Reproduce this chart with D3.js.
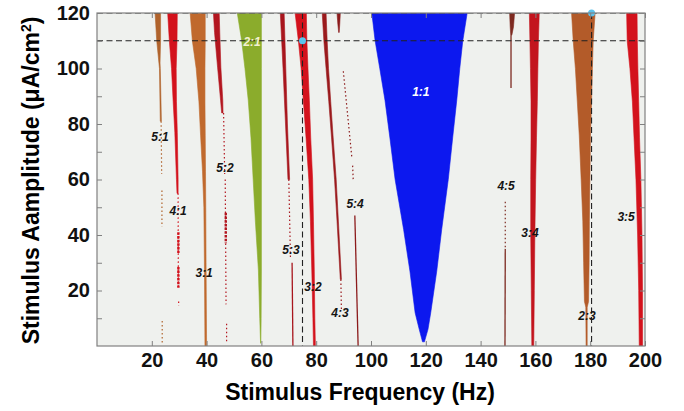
<!DOCTYPE html>
<html>
<head>
<meta charset="utf-8">
<script src="https://cdn.jsdelivr.net/npm/d3@7"></script>
<style>
  body { margin: 0; background: #fff; }
  svg { display: block; font-family: "Liberation Sans", Arial, sans-serif; }
</style>
</head>
<body>
<div id="chart"></div>
<script>
// axis ticks
var xTicks = [20, 40, 60, 80, 100, 120, 140, 160, 180, 200];
var yTicks = [20, 40, 60, 80, 100, 120];
var yTickMarks = [10, 20, 30, 40, 50, 60, 70, 80, 90, 100, 110];

// locking ratios, left to right
var ratios = ["5:1", "4:1", "3:1", "5:2", "2:1", "5:3", "3:2", "4:3", "5:4", "1:1", "4:5", "3:4", "2:3", "3:5"];

// where each ratio label sits (Hz, uA/cm2)
var labelFreq = [23.0, 29.6, 39.1, 46.7, 56.6, 70.8, 78.8, 88.7, 94.2, 118.2, 149.3, 158.0, 178.8, 193.1];
var labelAmp  = [75.3, 48.6, 26.3, 64.1, 109.5, 34.6, 21.3, 11.9, 51.2, 91.5, 57.7, 40.7, 10.8, 46.5];

// tongue outlines: [amplitude, left freq, right freq]
var tongue51 = [[120, 21.2, 23.2], [110, 21.8, 23.2], [102, 22.6, 23.0], [100, 22.8, 23.1], [81, 23.1, 23.5]];
var tongue41 = [[120, 25.8, 29.3], [110, 26.4, 29.2], [100, 27.2, 28.9], [88, 27.8, 29.0], [77, 28.4, 29.3], [60, 29.0, 29.6], [55, 29.2, 29.6]];
var tongue31 = [[120, 34.0, 39.5], [110, 34.8, 39.5], [100, 36.2, 39.4], [88, 37.2, 39.4], [76, 37.8, 39.5], [63, 38.5, 39.6], [50, 39.0, 39.7], [30, 39.2, 39.8], [0, 39.4, 40.0]];
var tongue52 = [[120, 42.5, 44.6], [113, 42.9, 44.8], [100.5, 44.0, 45.2], [88.6, 45.1, 45.9], [84, 45.5, 46.0]];
var tongue21 = [[120, 51.2, 60.0], [110, 52.8, 60.0], [100, 54.0, 60.0], [88.6, 55.2, 60.0], [75, 56.2, 60.0], [60, 57.0, 60.0], [45, 57.8, 60.0], [27.4, 58.9, 60.0], [10, 59.4, 59.9], [1, 59.7, 59.8]];
var tongue53 = [[120, 66.9, 68.3], [100, 67.9, 68.9], [80, 68.8, 69.5], [60, 69.7, 70.3]];
var tongue32 = [[120, 72.3, 76.4], [110, 73.5, 76.6], [100, 74.5, 77.0], [88.6, 75.3, 77.5], [75, 76.3, 78.0], [60, 77.3, 78.7], [45, 77.9, 79.0], [27, 78.4, 79.3], [10, 78.8, 79.5], [0, 79.0, 79.7]];
var tongue43 = [[120, 82.2, 83.6], [110, 82.8, 84.0], [100, 83.6, 84.5], [88, 84.6, 85.3], [75, 85.6, 86.2], [60, 86.7, 87.3], [45, 87.6, 88.1], [24, 88.8, 89.2]];
var tongue54 = [[120, 87.6, 88.8], [116, 87.9, 88.6], [113, 88.2, 88.4]];
var tongue11 = [[120, 100.3, 135.1], [110, 101.5, 133.5], [100, 103.2, 132.4], [88.6, 105.1, 131.3], [75, 106.9, 129.8], [60, 108.8, 128.2], [42, 111.9, 125.8], [27, 114.2, 124.0], [12, 116.1, 121.8], [6, 117.6, 120.8], [1.5, 118.8, 119.5]];
var tongue45 = [[120, 150.6, 152.4], [115, 150.8, 152.0], [112, 151.0, 151.4]];
var tongue34 = [[120, 157.8, 161.4], [110, 158.0, 161.1], [100, 158.2, 160.9], [88, 158.4, 160.7], [75, 158.4, 160.4], [60, 158.3, 160.1], [40, 158.3, 159.8], [20, 158.5, 159.6], [0, 158.7, 159.4]];
var tongue23 = [[120, 173.2, 181.8], [110, 173.8, 181.1], [100, 174.6, 180.8], [88, 175.3, 180.5], [76, 176.0, 180.1], [60, 176.7, 179.9], [45, 177.3, 179.7], [30, 177.6, 179.6], [16, 177.9, 179.4], [14, 178.4, 178.9], [0, 178.5, 178.9]];
var tongue35 = [[120, 193.3, 197.1], [110, 193.5, 197.2], [100, 194.5, 197.4], [88, 195.4, 197.7], [75, 196.0, 198.0], [60, 196.7, 198.5], [40, 197.3, 198.9], [20, 197.7, 199.1], [0, 197.9, 199.1]];

// thin continuations below the tongues: [ratio, fTop, aTop, fBottom, aBottom]
var solidStrands = [
  ["5:3", 71.2, 30, 71.5, 0],
  ["5:4", 94.1, 47, 95.3, 0],
  ["4:5", 151.1, 112, 151.1, 93],
  ["4:5", 149.0, 35, 148.9, 0]
];
var dottedStrands = [
  ["5:1", 23.4, 81, 23.6, 62], ["5:1", 23.7, 56, 23.7, 43], ["5:1", 23.8, 9, 23.8, 1],
  ["4:1", 29.6, 55, 29.7, 21], ["4:1", 29.8, 16, 29.8, 14.5],
  ["5:2", 46.2, 84, 46.6, 62], ["5:2", 46.8, 60, 47.1, 15], ["5:2", 47.3, 8, 47.3, 1],
  ["5:3", 70.0, 60, 70.6, 32],
  ["4:3", 89.0, 24, 89.2, 13],
  ["5:4", 89.9, 99, 93.0, 68], ["5:4", 93.3, 65, 93.5, 60],
  ["4:5", 149.0, 52, 149.0, 35]
];
var heavyStrands = [
  ["4:1", 29.7, 41, 29.7, 33.5], ["4:1", 29.7, 28.5, 29.7, 21],
  ["5:2", 47.0, 48, 47.0, 37]
];

// dashed reference lines and the two operating points
var refFreqs = [75, 180.5];
var refAmps = [110, 120];
var pointFreq = [75, 180.5];
var pointAmp = [110, 120];

var tongues = [
  ["5:1", tongue51], ["4:1", tongue41], ["3:1", tongue31], ["5:2", tongue52], ["2:1", tongue21],
  ["5:3", tongue53], ["3:2", tongue32], ["4:3", tongue43], ["5:4", tongue54], ["1:1", tongue11],
  ["4:5", tongue45], ["3:4", tongue34], ["2:3", tongue23], ["3:5", tongue35]
];

function plotTongues(containerId) {
    var WIDTH = 684;
    var HEIGHT = 411;
    var MARGINS = {top: 13, right: 39, bottom: 65, left: 97};

    var color = d3.scaleOrdinal()
        .domain(ratios)
        .range(["#b0632c", "#d3121c", "#c0692d", "#b3161f", "#8bac2c", "#a8161d",
                "#d3121c", "#9a1a1c", "#8c1b1b", "#0c18ef", "#7d2a20", "#c3151e", "#b35b29", "#d3121c"]);

    var svg = d3.select('#' + containerId).append("svg")
        .attr("width", WIDTH)
        .attr("height", HEIGHT);

    var xScale = d3.scaleLinear().domain([0, 200]).range([MARGINS.left, WIDTH - MARGINS.right]);
    var yScale = d3.scaleLinear().domain([0, 120]).range([HEIGHT - MARGINS.bottom, MARGINS.top]);

    var x0 = xScale(0), x1 = xScale(200), y0 = yScale(0), y1 = yScale(120);

    svg.append("defs").append("clipPath").attr("id", "plotclip")
        .append("rect")
        .attr("x", x0).attr("y", y1)
        .attr("width", x1 - x0).attr("height", y0 - y1);

    svg.append("rect")
        .attr("x", x0).attr("y", y1)
        .attr("width", x1 - x0).attr("height", y0 - y1)
        .style("fill", "#eff1ee");

    var plot = svg.append("g").attr("clip-path", "url(#plotclip)");

    var area = d3.area()
        .y(function(d) { return yScale(d[0]); })
        .x0(function(d) { return xScale(d[1]); })
        .x1(function(d) { return xScale(d[2]); });

    plot.selectAll("path.tongue")
        .data(tongues)
        .enter().append("path")
        .attr("class", "tongue")
        .attr("d", function(d) { return area(d[1]); })
        .style("fill", function(d) { return color(d[0]); })
        .style("stroke", function(d) { return color(d[0]); })
        .style("stroke-width", 0.6);

    function drawStrands(rows, width, dash) {
        plot.append("g").selectAll("line")
            .data(rows)
            .enter().append("line")
            .attr("x1", function(d) { return xScale(d[1]); })
            .attr("y1", function(d) { return yScale(d[2]); })
            .attr("x2", function(d) { return xScale(d[3]); })
            .attr("y2", function(d) { return yScale(d[4]); })
            .style("stroke", function(d) { return color(d[0]); })
            .style("stroke-width", width)
            .style("stroke-dasharray", dash);
    }
    drawStrands(solidStrands, 1.3, null);
    drawStrands(dottedStrands, 1.2, "1.5,2.5");
    drawStrands(heavyStrands, 2.4, "2.5,1.2");

    // dashed guides
    plot.append("g").selectAll("line")
        .data(refAmps)
        .enter().append("line")
        .attr("x1", x0).attr("x2", x1)
        .attr("y1", function(d) { return yScale(d); })
        .attr("y2", function(d) { return yScale(d); })
        .style("stroke", "#222")
        .style("stroke-width", 1.1)
        .style("stroke-dasharray", "6,3.5");

    plot.append("g").selectAll("line")
        .data(refFreqs)
        .enter().append("line")
        .attr("y1", y1).attr("y2", y0)
        .attr("x1", function(d) { return xScale(d); })
        .attr("x2", function(d) { return xScale(d); })
        .style("stroke", "#222")
        .style("stroke-width", 1.1)
        .style("stroke-dasharray", "6,3.5");

    svg.append("g").selectAll("circle")
        .data(pointFreq)
        .enter().append("circle")
        .attr("cx", function(d) { return xScale(d); })
        .attr("cy", function(d, i) { return yScale(pointAmp[i]); })
        .attr("r", 3.5)
        .style("fill", "#5cc3ec");

    // frame with inward ticks on all sides
    svg.append("rect")
        .attr("x", x0).attr("y", y1)
        .attr("width", x1 - x0).attr("height", y0 - y1)
        .style("fill", "none")
        .style("stroke", "#808080")
        .style("stroke-width", 1.2);

    var tickStyle = function(g) {
        g.select(".domain").remove();
        g.selectAll(".tick line").style("stroke", "#808080");
        g.selectAll("text")
            .style("font-size", "20px")
            .style("font-weight", "bold")
            .style("fill", "#111");
    };

    svg.append("g")
        .attr("transform", "translate(0," + y0 + ")")
        .call(d3.axisBottom(xScale).tickValues(xTicks).tickSizeInner(-5).tickPadding(7))
        .call(tickStyle);

    svg.append("g")
        .attr("transform", "translate(0," + y1 + ")")
        .call(d3.axisTop(xScale).tickValues(xTicks).tickSizeInner(-5).tickFormat(""))
        .call(tickStyle);

    svg.append("g")
        .attr("transform", "translate(" + x0 + ",0)")
        .call(d3.axisLeft(yScale).tickValues(yTickMarks.concat([120])).tickSizeInner(-5).tickPadding(7)
            .tickFormat(function(d) { return yTicks.indexOf(d) >= 0 ? d : ""; }))
        .call(tickStyle);

    svg.append("g")
        .attr("transform", "translate(" + x1 + ",0)")
        .call(d3.axisRight(yScale).tickValues(yTickMarks).tickSizeInner(-5).tickFormat(""))
        .call(tickStyle);

    // ratio labels
    svg.append("g").selectAll("text")
        .data(ratios)
        .enter().append("text")
        .attr("x", function(d, i) { return xScale(labelFreq[i]); })
        .attr("y", function(d, i) { return yScale(labelAmp[i]); })
        .attr("dy", "0.35em")
        .attr("text-anchor", "middle")
        .style("font-size", "12px")
        .style("font-weight", "bold")
        .style("font-style", "italic")
        .style("fill", function(d) { return d === "1:1" ? "#ffffff" : (d === "2:1" ? "#f3f0cf" : "#151515"); })
        .text(function(d) { return d; });

    // axis titles
    svg.append("text")
        .attr("x", 360)
        .attr("y", 400)
        .attr("text-anchor", "middle")
        .style("font-size", "23px")
        .style("font-weight", "bold")
        .text("Stimulus Frequency (Hz)");

    var yt = svg.append("text")
        .attr("transform", "translate(38.5," + ((y0 + y1) / 2 + 1) + ") rotate(-90)")
        .attr("text-anchor", "middle")
        .style("font-size", "23px")
        .style("font-weight", "bold");
    yt.append("tspan").text("Stimulus Aamplitude (\u03bcA/cm");
    yt.append("tspan").attr("dy", "-8").style("font-size", "14px").text("2");
    yt.append("tspan").attr("dy", "8").text(")");
}

plotTongues("chart");
</script>
</body>
</html>
